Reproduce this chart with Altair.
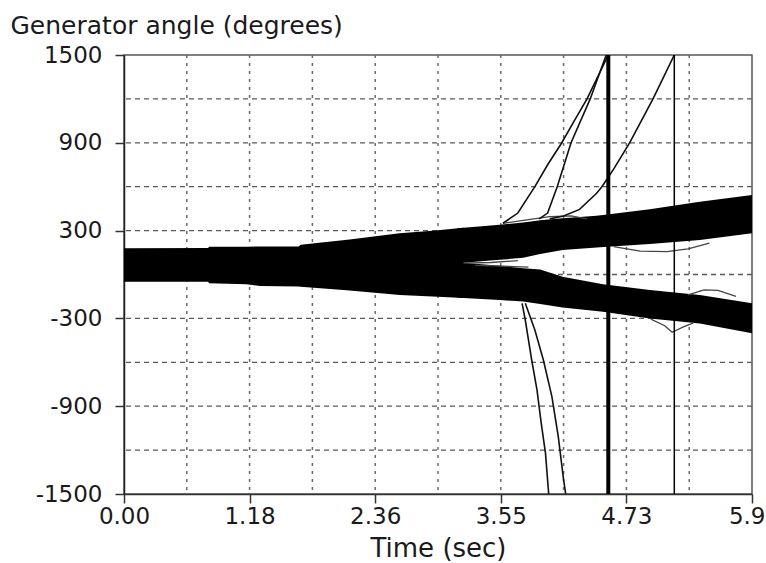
import altair as alt
import pandas as pd

# ---------------- axis values ----------------
x_ticks = [0.0, 1.18, 2.36, 3.54, 4.72, 5.9]
x_tick_labels = ["0.00", "1.18", "2.36", "3.55", "4.73", "5.9"]
x_grid = [0.59, 1.18, 1.77, 2.36, 2.95, 3.54, 4.13, 4.72, 5.31]
y_ticks = [-1500, -900, -300, 300, 900, 1500]
y_grid = [-1200, -900, -600, -300, 0, 300, 600, 900, 1200]

# ---------------- dense band of generator angles (envelopes) ----------------
merged_t = [0.0, 0.79, 0.80, 1.15, 1.28, 1.64, 1.66, 2.12, 2.59, 2.90, 3.19]
merged_hi = [179, 181, 190, 190, 191, 192, 204, 240, 282, 299, 320]
merged_lo = [-49, -49, -60, -66, -79, -82, -84, -110, -140, -150, -160]

upper_t = [3.13, 3.19, 3.53, 3.75, 3.91, 4.12, 4.44, 4.54, 4.94, 5.41, 5.9]
upper_hi = [316, 320, 340, 355, 370, 385, 402, 410, 446, 498, 543]
upper_lo = [81, 81, 100, 115, 140, 167, 185, 190, 208, 236, 282]

lower_t = [3.13, 3.19, 3.53, 3.75, 3.91, 4.12, 4.50, 4.94, 5.41, 5.9]
lower_hi = [81, 81, 60, 42, 35, -15, -66, -106, -140, -197]
lower_lo = [-157, -160, -174, -185, -202, -225, -254, -300, -334, -402]

# ---------------- runaway generators ----------------
up1_t = [3.56, 3.70, 3.86, 3.98, 4.11, 4.23, 4.35, 4.55]
up1_v = [350, 420, 600, 750, 897, 1050, 1200, 1500]
up2_t = [3.90, 3.98, 4.07, 4.20, 4.38, 4.53]
up2_v = [380, 420, 600, 900, 1200, 1500]
up3_t = [4.00, 4.13, 4.28, 4.44, 4.49, 4.60, 4.75, 4.97, 5.17]
up3_v = [380, 400, 445, 555, 600, 720, 900, 1200, 1500]
down1_t = [3.74, 3.77, 3.83, 3.88, 3.92, 3.96, 3.99]
down1_v = [-197, -311, -584, -789, -1017, -1222, -1500]
down2_t = [3.77, 3.86, 3.94, 4.02, 4.08, 4.13, 4.15]
down2_v = [-197, -379, -584, -835, -1108, -1404, -1500]

# small deviating traces at the band edges
edge1_t = [3.56, 3.80, 4.00, 4.20, 4.35]
edge1_v = [350, 375, 395, 400, 380]
edge2_t = [4.60, 4.85, 5.10, 5.30, 5.50]
edge2_v = [190, 160, 156, 175, 215]
edge3_t = [5.30, 5.45, 5.58, 5.75]
edge3_v = [-140, -105, -108, -150]
edge4_t = [4.95, 5.08, 5.15, 5.25, 5.35]
edge4_v = [-305, -350, -395, -360, -330]
edge5_t = [3.19, 3.45, 3.70]
edge5_v = [78, 82, 95]
edge6_t = [3.30, 3.55, 3.80]
edge6_v = [62, 57, 50]

# wrap-around traces (vertical jumps)
jump_thick_t = [4.55]
jump_thin_t = [5.17]

# ---------------- tables ----------------
def band(name, t, hi, lo):
    return pd.DataFrame({"t": t, "hi": hi, "lo": lo, "band": name})

band_df = pd.concat([
    band("merged", merged_t, merged_hi, merged_lo),
    band("upper", upper_t, upper_hi, upper_lo),
    band("lower", lower_t, lower_hi, lower_lo),
], ignore_index=True)

def lines(named):
    frames = []
    for name, t, v in named:
        frames.append(pd.DataFrame({"t": t, "v": v, "curve": name, "i": range(len(t))}))
    return pd.concat(frames, ignore_index=True)

main_df = lines([("u1", up1_t, up1_v), ("u2", up2_t, up2_v), ("u3", up3_t, up3_v),
                 ("d1", down1_t, down1_v), ("d2", down2_t, down2_v)])
edge_df = lines([("e1", edge1_t, edge1_v), ("e2", edge2_t, edge2_v), ("e3", edge3_t, edge3_v),
                 ("e4", edge4_t, edge4_v), ("e5", edge5_t, edge5_v), ("e6", edge6_t, edge6_v)])

xscale = alt.Scale(domain=[0, 5.9], nice=False, zero=False)
yscale = alt.Scale(domain=[-1500, 1500], nice=False, zero=False)

label_expr = "''"
for v, lab in reversed(list(zip(x_ticks, x_tick_labels))):
    label_expr = f"abs(datum.value - {v}) < 0.001 ? '{lab}' : ({label_expr})"

FONT = "DejaVu Sans"
TXT = "#1a1a1a"

x_axis = alt.Axis(values=x_ticks, labelExpr=label_expr, grid=False, tickSize=9,
                  labelPadding=2, labelFont=FONT, labelFontSize=23, labelColor=TXT,
                  labelAlign={"expr": "datum.value > 5.8 ? 'right' : 'center'"},
                  labelOffset={"expr": "datum.value > 5.8 ? 13 : 0"},
                  tickColor="#333", domainColor="#333", domainWidth=1.5, tickWidth=1.5,
                  title="Time (sec)", titleFont=FONT, titleFontSize=26,
                  titleFontWeight="normal", titleColor=TXT, titleBaseline="alphabetic",
                  titleY=62, labelFlush=False, labelOverlap=False)
y_axis = alt.Axis(values=y_ticks,
                  labelExpr="datum.value < 0 ? '-' + abs(datum.value) : '' + datum.value",
                  grid=False, tickSize=9, labelPadding=13, labelFont=FONT, labelFontSize=23,
                  labelColor=TXT, tickColor="#333", domainColor="#222", domainWidth=1.5,
                  tickWidth=1.5, labelFlush=False, labelOverlap=False,
                  title="Generator angle (degrees)", titleFont=FONT, titleFontSize=25,
                  titleFontWeight="normal", titleColor=TXT, titleAngle=0, titleAlign="left",
                  titleBaseline="alphabetic", titleX=-114, titleY=-22)

hgrid = alt.Chart(pd.DataFrame({"v": y_grid})).mark_rule(
    color="#5a5a5a", strokeDash=[5, 4], strokeWidth=1.3
).encode(y=alt.Y("v:Q", scale=yscale, axis=y_axis))

vgrid = alt.Chart(pd.DataFrame({"t": x_grid})).mark_rule(
    color="#6a6a6a", strokeDash=[3, 5], strokeWidth=1.5
).encode(x=alt.X("t:Q", scale=xscale, axis=x_axis))

areas = alt.Chart(band_df).mark_area(color="black", opacity=1).encode(
    x=alt.X("t:Q", scale=xscale),
    y=alt.Y("hi:Q", scale=yscale),
    y2="lo:Q",
    detail="band:N",
)

edges = alt.Chart(edge_df).mark_line(color="#444", strokeWidth=1.3, clip=True).encode(
    x=alt.X("t:Q", scale=xscale), y=alt.Y("v:Q", scale=yscale),
    detail="curve:N", order="i:Q")

mains = alt.Chart(main_df).mark_line(color="#111", strokeWidth=1.6, clip=True).encode(
    x=alt.X("t:Q", scale=xscale), y=alt.Y("v:Q", scale=yscale),
    detail="curve:N", order="i:Q")

thick = alt.Chart(pd.DataFrame({"t": jump_thick_t})).mark_rule(color="black", strokeWidth=4).encode(
    x=alt.X("t:Q", scale=xscale), y=alt.value(0), y2=alt.value(439))
thin = alt.Chart(pd.DataFrame({"t": jump_thin_t})).mark_rule(color="black", strokeWidth=1.5).encode(
    x=alt.X("t:Q", scale=xscale), y=alt.value(0), y2=alt.value(439))

chart = alt.layer(hgrid, vgrid, areas, edges, mains, thick, thin).properties(
    width=628, height=439,
    autosize=alt.AutoSizeParams(type="none"),
    padding={"left": 124, "top": 55, "right": 14, "bottom": 69},
    background="white",
).configure_view(stroke="#555", strokeWidth=1.5)

chart.save("out.html", embed_options={"renderer": "svg", "actions": False})
